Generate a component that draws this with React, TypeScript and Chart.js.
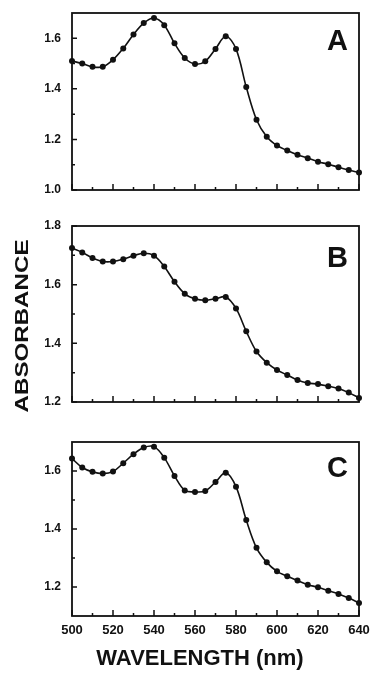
import React, { useEffect, useRef } from "react";
import { Chart, registerables } from "chart.js";

Chart.register(...registerables);

// ---------- data ----------
const wavelengths = [
  500, 505, 510, 515, 520, 525, 530, 535, 540, 545, 550, 555, 560, 565, 570,
  575, 580, 585, 590, 595, 600, 605, 610, 615, 620, 625, 630, 635, 640,
];

const absorbanceA = [
  1.51, 1.5, 1.487, 1.487, 1.515, 1.56, 1.615, 1.66, 1.68, 1.652, 1.58, 1.522,
  1.498, 1.509, 1.558, 1.608, 1.558, 1.407, 1.278, 1.211, 1.176, 1.156, 1.139,
  1.126, 1.112, 1.102, 1.09, 1.079, 1.069,
];

const absorbanceB = [
  1.725, 1.71, 1.691, 1.679, 1.679, 1.687, 1.699, 1.707, 1.699, 1.662, 1.61,
  1.569, 1.552, 1.547, 1.552, 1.558, 1.519, 1.441, 1.372, 1.334, 1.309, 1.292,
  1.275, 1.265, 1.261, 1.254, 1.246, 1.232, 1.214,
];

const absorbanceC = [
  1.643, 1.612, 1.597, 1.591, 1.598, 1.627, 1.658, 1.681, 1.684, 1.646, 1.583,
  1.533, 1.528, 1.531, 1.562, 1.594, 1.546, 1.431, 1.335, 1.285, 1.254, 1.237,
  1.222, 1.208, 1.199, 1.187, 1.176, 1.162, 1.145,
];

const xTickValues = [500, 520, 540, 560, 580, 600, 620, 640];
const xMinorTicks = [510, 530, 550, 570, 590, 610, 630];

const yTicksA = [1.0, 1.2, 1.4, 1.6];
const yMinorA = [1.1, 1.3, 1.5];
const yTicksB = [1.2, 1.4, 1.6, 1.8];
const yMinorB = [1.3, 1.5, 1.7];
const yTicksC = [1.2, 1.4, 1.6];
const yMinorC = [1.3, 1.5];

const xTitle = "WAVELENGTH (nm)";
const yTitle = "ABSORBANCE";

// ---------- style ----------
const INK = "#111111";
const FONT = '"Liberation Sans", Arial, Helvetica, sans-serif';

type ExtraText = {
  text: string;
  x: number;
  y: number;
  size: number;
  rotate?: boolean;
  sx?: number;
};

type PanelCfg = {
  letter: string;
  values: number[];
  yMin: number;
  yMax: number;
  yTicks: number[];
  yMinor: number[];
  padTop: number;
  xHeight: number;
  showX: boolean;
  letterDy: number;
  canvasTop: number;
  canvasHeight: number;
  extra: ExtraText[];
};

const panels: PanelCfg[] = [
  {
    letter: "A",
    values: absorbanceA,
    yMin: 1.0,
    yMax: 1.7,
    yTicks: yTicksA,
    yMinor: yMinorA,
    padTop: 13,
    xHeight: 15,
    showX: false,
    letterDy: 37,
    canvasTop: 0,
    canvasHeight: 205,
    extra: [],
  },
  {
    letter: "B",
    values: absorbanceB,
    yMin: 1.2,
    yMax: 1.8,
    yTicks: yTicksB,
    yMinor: yMinorB,
    padTop: 21,
    xHeight: 18,
    showX: false,
    letterDy: 41,
    canvasTop: 205,
    canvasHeight: 215,
    extra: [{ text: yTitle, x: 28.3, y: 121, size: 19, rotate: true, sx: 1.27 }],
  },
  {
    letter: "C",
    values: absorbanceC,
    yMin: 1.1,
    yMax: 1.7,
    yTicks: yTicksC,
    yMinor: yMinorC,
    padTop: 22,
    xHeight: 60,
    showX: true,
    letterDy: 35,
    canvasTop: 420,
    canvasHeight: 256,
    extra: [{ text: xTitle, x: 200, y: 245, size: 22 }],
  },
];

function makeDecor(cfg: PanelCfg) {
  return {
    id: "panelDecor",
    afterDraw(chart: any) {
      const { ctx, chartArea } = chart;
      const { left, right, top, bottom } = chartArea;
      const xs = chart.scales.x;
      const ys = chart.scales.y;
      ctx.save();
      ctx.strokeStyle = INK;
      ctx.lineWidth = 1.8;
      ctx.strokeRect(left, top, right - left, bottom - top);

      ctx.lineWidth = 1.5;
      ctx.beginPath();
      xTickValues.forEach((v) => {
        const px = xs.getPixelForValue(v);
        ctx.moveTo(px, bottom);
        ctx.lineTo(px, bottom - 6);
      });
      xMinorTicks.forEach((v) => {
        const px = xs.getPixelForValue(v);
        ctx.moveTo(px, bottom);
        ctx.lineTo(px, bottom - 3);
      });
      cfg.yTicks.forEach((v) => {
        const py = ys.getPixelForValue(v);
        ctx.moveTo(left, py);
        ctx.lineTo(left + 5, py);
      });
      cfg.yMinor.forEach((v) => {
        const py = ys.getPixelForValue(v);
        ctx.moveTo(left, py);
        ctx.lineTo(left + 3, py);
      });
      ctx.stroke();

      ctx.fillStyle = INK;
      ctx.font = `bold 29px ${FONT}`;
      ctx.textAlign = "right";
      ctx.textBaseline = "alphabetic";
      ctx.fillText(cfg.letter, right - 11, top + cfg.letterDy);

      cfg.extra.forEach((t) => {
        ctx.save();
        ctx.translate(t.x, t.y);
        if (t.rotate) ctx.rotate(-Math.PI / 2);
        ctx.scale(t.sx ?? 1, 1);
        ctx.font = `bold ${t.size}px ${FONT}`;
        ctx.textAlign = "center";
        ctx.textBaseline = "alphabetic";
        ctx.fillText(t.text, 0, 0);
        ctx.restore();
      });
      ctx.restore();
    },
  };
}

function Panel({ cfg }: { cfg: PanelCfg }) {
  const ref = useRef<HTMLCanvasElement | null>(null);
  useEffect(() => {
    if (!ref.current) return;
    const chart = new Chart(ref.current, {
      type: "line",
      data: {
        datasets: [
          {
            data: wavelengths.map((w, i) => ({ x: w, y: cfg.values[i] })),
            borderColor: INK,
            borderWidth: 1.6,
            pointRadius: 3,
            pointBackgroundColor: INK,
            pointBorderWidth: 0,
            tension: 0.35,
            fill: false,
            clip: 6,
          } as any,
        ],
      },
      options: {
        animation: false,
        responsive: false,
        events: [],
        layout: { padding: { top: cfg.padTop, right: 11, left: 0, bottom: 0 } },
        plugins: { legend: { display: false }, tooltip: { enabled: false } },
        scales: {
          x: {
            type: "linear",
            min: 500,
            max: 640,
            grid: { display: false, drawTicks: false },
            border: { display: false },
            afterBuildTicks: (s: any) => {
              s.ticks = xTickValues.map((v) => ({ value: v }));
            },
            afterFit: (s: any) => {
              s.height = cfg.xHeight;
              s.paddingLeft = 0;
              s.paddingRight = 0;
            },
            ticks: {
              display: cfg.showX,
              padding: 7,
              color: INK,
              maxRotation: 0,
              autoSkip: false,
              font: { family: FONT, size: 13, weight: "bold" },
              callback: (v: any) => String(v),
            },
          },
          y: {
            type: "linear",
            min: cfg.yMin,
            max: cfg.yMax,
            grid: { display: false, drawTicks: false },
            border: { display: false },
            afterBuildTicks: (s: any) => {
              s.ticks = cfg.yTicks.map((v) => ({ value: v }));
            },
            afterFit: (s: any) => {
              s.width = 72;
              s.paddingTop = 0;
              s.paddingBottom = 0;
            },
            ticks: {
              padding: 11,
              color: INK,
              autoSkip: false,
              font: { family: FONT, size: 12, weight: "bold" },
              callback: (v: any) => Number(v).toFixed(1),
            },
          },
        },
      } as any,
      plugins: [makeDecor(cfg)],
    });
    return () => chart.destroy();
  }, [cfg]);
  return (
    <canvas
      ref={ref}
      width={370}
      height={cfg.canvasHeight}
      style={{
        position: "absolute",
        left: 0,
        top: cfg.canvasTop,
        width: 370,
        height: cfg.canvasHeight,
        display: "block",
      }}
    />
  );
}

export default function App() {
  return (
    <div
      style={{
        position: "fixed",
        left: 0,
        top: 0,
        width: 370,
        height: 676,
        background: "#ffffff",
        overflow: "hidden",
      }}
    >
      {panels.map((p) => (
        <Panel key={p.letter} cfg={p} />
      ))}
    </div>
  );
}
